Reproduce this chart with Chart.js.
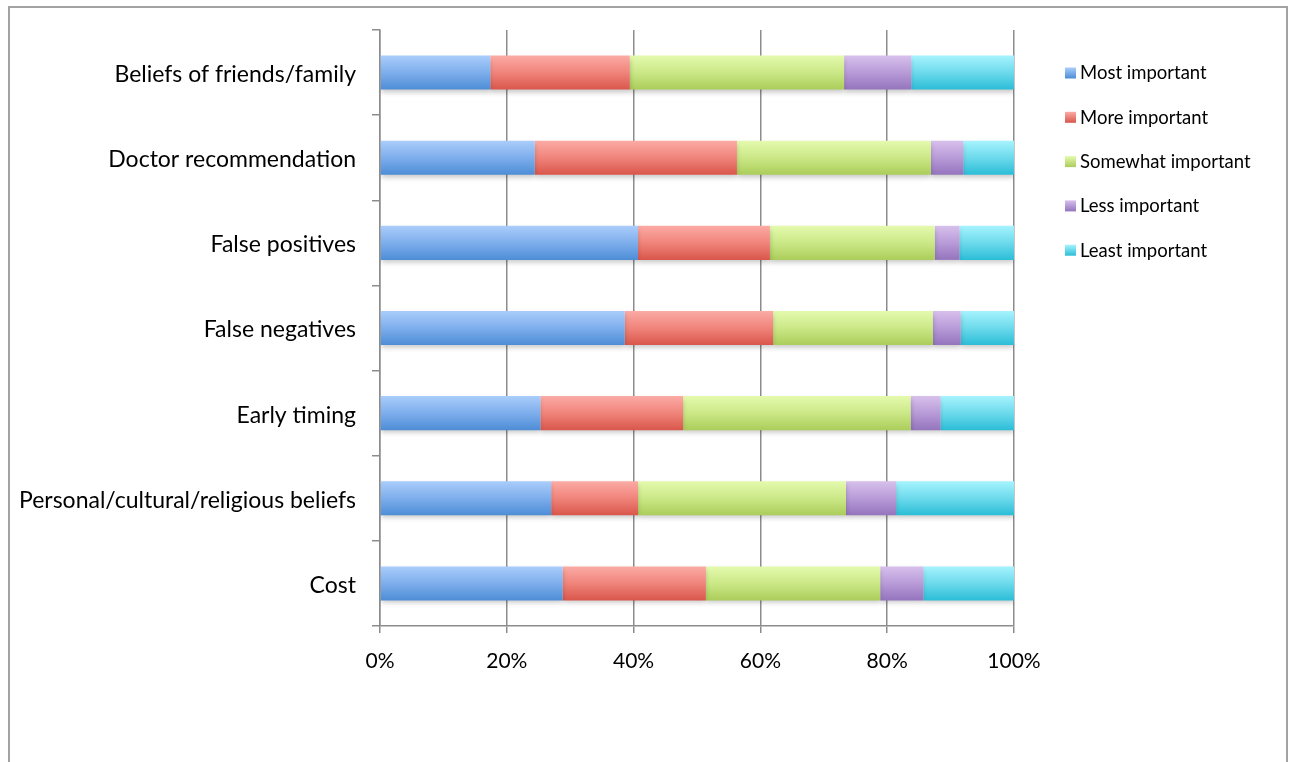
<!DOCTYPE html>
<html>
<head>
<meta charset="utf-8">
<script src="https://cdn.jsdelivr.net/npm/chart.js@4/dist/chart.umd.min.js"></script>
<style>
  html, body { margin: 0; padding: 0; background: #fff; overflow: hidden; }
  #frame { position: absolute; left: 8px; top: 6px; width: 1280px; height: 800px; border: 2px solid #a3a3a3; box-sizing: border-box; }
  #wrap { position: absolute; left: 0; top: 0; width: 1298px; height: 762px; }
</style>
</head>
<body>
<div id="frame"></div>
<div id="wrap"><canvas id="c" width="1298" height="762"></canvas></div>
<script>
// Factors and the share of respondents rating each one (percent)
const categories = [
  'Beliefs of friends/family',
  'Doctor recommendation',
  'False positives',
  'False negatives',
  'Early timing',
  'Personal/cultural/religious beliefs',
  'Cost'
];
const seriesNames = ['Most important', 'More important', 'Somewhat important', 'Less important', 'Least important'];
const mostImportant     = [17.4, 24.4, 40.7, 38.6, 25.3, 27.0, 28.8];
const moreImportant     = [22.0, 31.9, 20.8, 23.4, 22.5, 13.7, 22.6];
const somewhatImportant = [33.8, 30.6, 26.0, 25.2, 35.9, 32.8, 27.5];
const lessImportant     = [10.6,  5.1,  3.9,  4.4,  4.7,  7.9,  6.8];
const leastImportant    = [16.2,  8.0,  8.6,  8.4, 11.6, 18.6, 14.3];
const xTicks = [0, 20, 40, 60, 80, 100];

const seriesValues = [mostImportant, moreImportant, somewhatImportant, lessImportant, leastImportant];

// gradient stops per series: light top, base middle, dark bottom
const TOP = ['#aacdfb', '#fbaba5', '#e4faae', '#d7c0ec', '#a6f3fe'];
const MID = ['#7eaeec', '#f0847b', '#cbe887', '#b89bd8', '#6ddaec'];
const BOT = ['#4d8dd6', '#d9564b', '#abcd5a', '#9474bd', '#2bbdd7'];

const BAR_PCT = 0.4;
const FONT = 'Lato, "Open Sans", sans-serif';
const GRID = '#8c8c8c';

function barFill(i) {
  return (ctx) => {
    const chart = ctx.chart;
    if (ctx.type !== 'data' || !chart.chartArea || !chart.scales.y) return MID[i];
    const y = chart.scales.y;
    const c = y.getPixelForValue(ctx.dataIndex);
    const half = (y.height / categories.length) * BAR_PCT / 2;
    const g = chart.ctx.createLinearGradient(0, c - half, 0, c + half);
    g.addColorStop(0, TOP[i]);
    g.addColorStop(0.5, MID[i]);
    g.addColorStop(1, BOT[i]);
    return g;
  };
}

// soft drop shadow under the bars
const barShadow = {
  id: 'barShadow',
  beforeDatasetsDraw(chart) {
    const ctx = chart.ctx;
    ctx.save();
    ctx.shadowColor = 'rgba(0,0,0,0.22)';
    ctx.shadowBlur = 5;
    ctx.shadowOffsetY = 3;
  },
  afterDatasetsDraw(chart) {
    chart.ctx.restore();
  }
};

// legend column to the right of the plot
const sideLegend = {
  id: 'sideLegend',
  afterDraw(chart) {
    const ctx = chart.ctx;
    const x0 = chart.chartArea.right + 51;
    const y0 = 73.5;
    const step = 44.3;
    ctx.save();
    chart.data.datasets.forEach((ds, i) => {
      const y = y0 + i * step;
      const g = ctx.createLinearGradient(0, y - 6, 0, y + 5);
      g.addColorStop(0, TOP[i]);
      g.addColorStop(1, BOT[i]);
      ctx.fillStyle = g;
      ctx.fillRect(x0, y - 6, 11, 11);
      ctx.fillStyle = '#000';
      ctx.font = '18.5px ' + FONT;
      ctx.textBaseline = 'middle';
      ctx.textAlign = 'left';
      ctx.fillText(ds.label, x0 + 15, y);
    });
    ctx.restore();
  }
};

new Chart(document.getElementById('c'), {
  type: 'bar',
  data: {
    labels: categories,
    datasets: seriesNames.map((name, i) => ({
      label: name,
      data: seriesValues[i],
      backgroundColor: barFill(i),
      borderWidth: 0,
      barPercentage: BAR_PCT,
      categoryPercentage: 1
    }))
  },
  options: {
    indexAxis: 'y',
    responsive: false,
    animation: false,
    events: [],
    layout: { padding: { left: 14, right: 284, top: 30, bottom: 90 } },
    plugins: { legend: { display: false }, tooltip: { enabled: false } },
    scales: {
      x: {
        stacked: true,
        min: 0,
        max: 100,
        afterBuildTicks(scale) { scale.ticks = xTicks.map(v => ({ value: v })); },
        afterFit(scale) { scale.height = 46; },
        ticks: {
          callback: v => v + '%',
          color: '#000',
          font: { family: FONT, size: 21 },
          padding: 16,
          maxRotation: 0
        },
        grid: { color: GRID, lineWidth: 1.5, tickLength: 7, tickColor: GRID },
        border: { display: true, color: GRID, width: 1.5 }
      },
      y: {
        stacked: true,
        afterFit(scale) { scale.width = 366; },
        ticks: {
          color: '#000',
          font: { family: FONT, size: 23 },
          padding: 16,
          labelOffset: 2
        },
        grid: { drawOnChartArea: false, tickLength: 8, color: GRID, lineWidth: 1.5 },
        border: { display: true, color: GRID, width: 1.5 }
      }
    }
  },
  plugins: [barShadow, sideLegend]
});
</script>
</body>
</html>
